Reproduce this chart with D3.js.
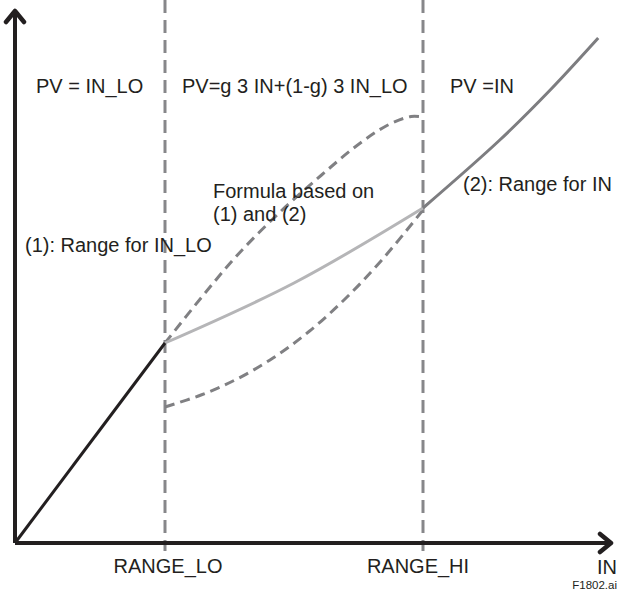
<!DOCTYPE html>
<meta charset="utf-8">
<style>
body { margin: 0; background: #fff; }
svg text { font-family: 'Liberation Sans', Arial, sans-serif; fill: #231f20; }
</style>
<body>
<script src="https://d3js.org/d3.v7.min.js"></script>
<script>
var width = 618,
    height = 592;

// values in IN / PV units (0..100)
var rangeLo = 25, rangeHi = 68;
var lowSeg = [[0, 0], [25, 40]];
var blendSeg = [[25, 40], [46.5, 52], [68, 67]];
var highSeg = [[68, 67], [80.8, 80.6], [89.2, 90.6], [97.2, 101]];
var upperDash = [[25, 40], [31, 49], [37, 57.5], [44, 66], [51, 73.5], [57, 79.5], [62, 83.5], [66, 85.3], [68, 85.2]];
var lowerDash = [[25, 27.2], [31, 29.6], [37, 32.8], [43, 37], [49, 42.3], [55, 48.8], [61, 56.4], [68, 66.6]];
var xLabels = ["RANGE_LO", "RANGE_HI"];

var x = d3.scaleLinear().domain([0, 100]).range([15, 615]);
var y = d3.scaleLinear().domain([0, 100]).range([543, 43]);

var svg = d3.select("body").append("svg")
    .attr("width", width)
    .attr("height", height);

var line = d3.line()
    .x(d => x(d[0]))
    .y(d => y(d[1]))
    .curve(d3.curveCatmullRom);

// region boundaries
svg.selectAll(".bound")
  .data([rangeLo, rangeHi])
  .join("line")
    .attr("class", "bound")
    .attr("x1", d => x(d)).attr("x2", d => x(d))
    .attr("y1", 0).attr("y2", 551)
    .attr("stroke", "#87878a")
    .attr("stroke-width", 3)
    .attr("stroke-dasharray", "13,7");

// dashed envelopes
svg.selectAll(".env")
  .data([upperDash, lowerDash])
  .join("path")
    .attr("class", "env")
    .attr("d", line)
    .attr("fill", "none")
    .attr("stroke", "#808083")
    .attr("stroke-width", 3)
    .attr("stroke-dasharray", "10,6");

svg.append("path").datum(blendSeg)
    .attr("d", line)
    .attr("fill", "none")
    .attr("stroke", "#b5b5b7")
    .attr("stroke-width", 3);

svg.append("path").datum(highSeg)
    .attr("d", line)
    .attr("fill", "none")
    .attr("stroke", "#7d7d80")
    .attr("stroke-width", 3);

svg.append("path").datum(lowSeg)
    .attr("d", line)
    .attr("fill", "none")
    .attr("stroke", "#231f20")
    .attr("stroke-width", 3);

// axes with arrows
var ox = x(0), oy = y(0);
svg.append("path")
    .attr("d", `M${ox},${oy}H610 M${ox},${oy}V12`)
    .attr("fill", "none")
    .attr("stroke", "#231f20")
    .attr("stroke-width", 4);
svg.append("path")
    .attr("d", `M600,${oy - 9}L611,${oy}L600,${oy + 9} M${ox - 9},22L${ox},11L${ox + 9},22`)
    .attr("fill", "none")
    .attr("stroke", "#231f20")
    .attr("stroke-width", 4.5)
    .attr("stroke-linecap", "round")
    .attr("stroke-linejoin", "round");

// x labels
svg.selectAll(".xlab")
  .data(xLabels)
  .join("text")
    .attr("class", "xlab")
    .attr("x", (d, i) => x([rangeLo, rangeHi][i]) + [3, -5][i])
    .attr("y", 573)
    .attr("text-anchor", "middle")
    .style("font-size", "20px")
    .text(d => d);

svg.append("text").attr("x", 597).attr("y", 574).style("font-size", "20px").text("IN");
svg.append("text").attr("x", 617).attr("y", 589).attr("text-anchor", "end").style("font-size", "11.5px").text("F1802.ai");

var notes = [
  ["PV = IN_LO", 36, 93],
  ["PV=g 3 IN+(1-g) 3 IN_LO", 182, 93],
  ["PV =IN", 450, 93],
  ["Formula based on", 213, 198],
  ["(1) and (2)", 213, 221],
  ["(1): Range for IN_LO", 25, 252],
  ["(2): Range for IN", 463, 191]
];
svg.selectAll(".note")
  .data(notes)
  .join("text")
    .attr("class", "note")
    .attr("x", d => d[1])
    .attr("y", d => d[2])
    .style("font-size", "20px")
    .text(d => d[0]);
</script>
</body>
